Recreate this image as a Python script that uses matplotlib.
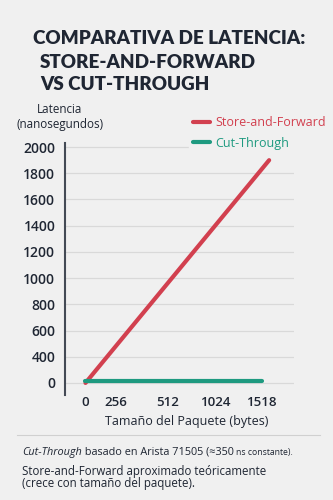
import matplotlib
matplotlib.use("Agg")
import matplotlib.pyplot as plt
import numpy as np

# datos
tamanos_sf = [0, 1600]        # bytes
latencia_sf = [0, 1900]       # ns
tamanos_ct = [0, 1518]
latencia_ct = [35, 35]
x_ticks = [0, 256, 512, 1024, 1518]
y_ticks = [0, 400, 600, 800, 1000, 1200, 1400, 1600, 1800, 2000]

BG = "#f0f0f0"
DARK = "#1f2633"
RED = "#d2404f"
GREEN = "#1e9a80"

plt.rcParams["font.family"] = ["Open Sans", "DejaVu Sans"]


def tramos(v, xp, fp):
    # interpolacion lineal por tramos, con extrapolacion en los extremos
    v = np.asarray(v, dtype=float)
    forma = v.shape
    v = np.atleast_1d(v).ravel()
    out = np.interp(v, xp, fp)
    lo = v < xp[0]
    hi = v > xp[-1]
    out[lo] = fp[0] + (v[lo] - xp[0]) * (fp[1] - fp[0]) / (xp[1] - xp[0])
    out[hi] = fp[-1] + (v[hi] - xp[-1]) * (fp[-1] - fp[-2]) / (xp[-1] - xp[-2])
    return out.reshape(forma)


# posiciones (en px) de las marcas del eje, como en el original
x_pos = [0, 30.5, 82, 130, 176]
y_pos = list(range(len(y_ticks)))

fig = plt.figure(figsize=(3.33, 5), dpi=100, facecolor=BG)
ax = fig.add_axes([65/333, 1-395/500, (294-65)/333, (395-143)/500])
ax.set_facecolor(BG)

ax.set_xscale("function", functions=(lambda v: tramos(v, x_ticks, x_pos),
                                     lambda v: tramos(v, x_pos, x_ticks)))
ax.set_yscale("function", functions=(lambda v: tramos(v, y_ticks, y_pos),
                                     lambda v: tramos(v, y_pos, y_ticks)))

ax.plot(tamanos_sf, latencia_sf, color=RED, lw=3, solid_capstyle="round", label="Store-and-Forward", zorder=3)
ax.plot(tamanos_ct, latencia_ct, color=GREEN, lw=3, solid_capstyle="round", label="Cut-Through", zorder=3)

ax.set_xlim(-172, 1867)
ax.set_ylim(-184, 2031)
ax.set_yticks(y_ticks)
ax.set_yticklabels([str(v) for v in y_ticks])
ax.set_xticks(x_ticks)
ax.set_xticklabels([str(v) for v in x_ticks])
ax.minorticks_off()
ax.grid(axis="y", color="#d9d9d9", lw=0.9)
ax.set_axisbelow(True)
for s in ["top", "right", "bottom"]:
    ax.spines[s].set_visible(False)
ax.spines["left"].set_color("#444a55")
ax.spines["left"].set_linewidth(1.5)
ax.tick_params(length=0, labelsize=9.5, colors=DARK)
ax.tick_params(axis="y", pad=7, labelsize=10)
ax.tick_params(axis="x", pad=1)
for lab in ax.get_xticklabels() + ax.get_yticklabels():
    lab.set_fontweight("semibold")

leg = ax.legend(loc="upper right", bbox_to_anchor=(336/333, 1-106/500), bbox_transform=fig.transFigure,
                frameon=True, facecolor=BG, edgecolor=BG, framealpha=1, fontsize=9,
                handlelength=1.4, handletextpad=0.4, labelspacing=0.6, borderpad=0.3)
for t, c in zip(leg.get_texts(), [RED, GREEN]):
    t.set_color(c)

# titulo
tit = dict(fontsize=13.6, fontweight="heavy", color=DARK, va="center", family=["Lato", "DejaVu Sans"])
fig.text(33/333, 1-39/500, "COMPARATIVA DE LATENCIA:", **tit)
fig.text(40/333, 1-62/500, "STORE-AND-FORWARD", **tit)
fig.text(40/333, 1-85/500, "VS CUT-THROUGH", **tit)

fig.text(60/333, 1-117/500, "Latencia\n(nanosegundos)", fontsize=8.4, color=DARK, ha="center", va="center",
         linespacing=1.15)
fig.text(187/333, 1-421/500, "Tamaño del Paquete (bytes)", fontsize=9, color=DARK, ha="center", va="center")

fig.add_artist(plt.Line2D([17/333, 320/333], [1-435/500, 1-435/500], color="#d0d0d0", lw=0.8))

# nota al pie
renderer = fig.canvas.get_renderer()
x0 = 22/333
y1 = 1-452/500
partes = [("Cut-Through", "italic", 7.8), (" basado en Arista 71505 (≈350 ", "normal", 7.8),
          ("ns constante).", "normal", 6.2)]
x = x0
for txt, estilo, fs in partes:
    t = fig.text(x, y1, txt, fontsize=fs, style=estilo, color=DARK, va="center")
    bb = t.get_window_extent(renderer)
    x += bb.width / fig.bbox.width
fig.text(x0, 1-471/500, "Store-and-Forward aproximado teóricamente", fontsize=8.3, color=DARK, va="center")
fig.text(x0, 1-484/500, "(crece con tamaño del paquete).", fontsize=8.3, color=DARK, va="center")

fig.savefig("out.png", dpi=100, facecolor=BG)
